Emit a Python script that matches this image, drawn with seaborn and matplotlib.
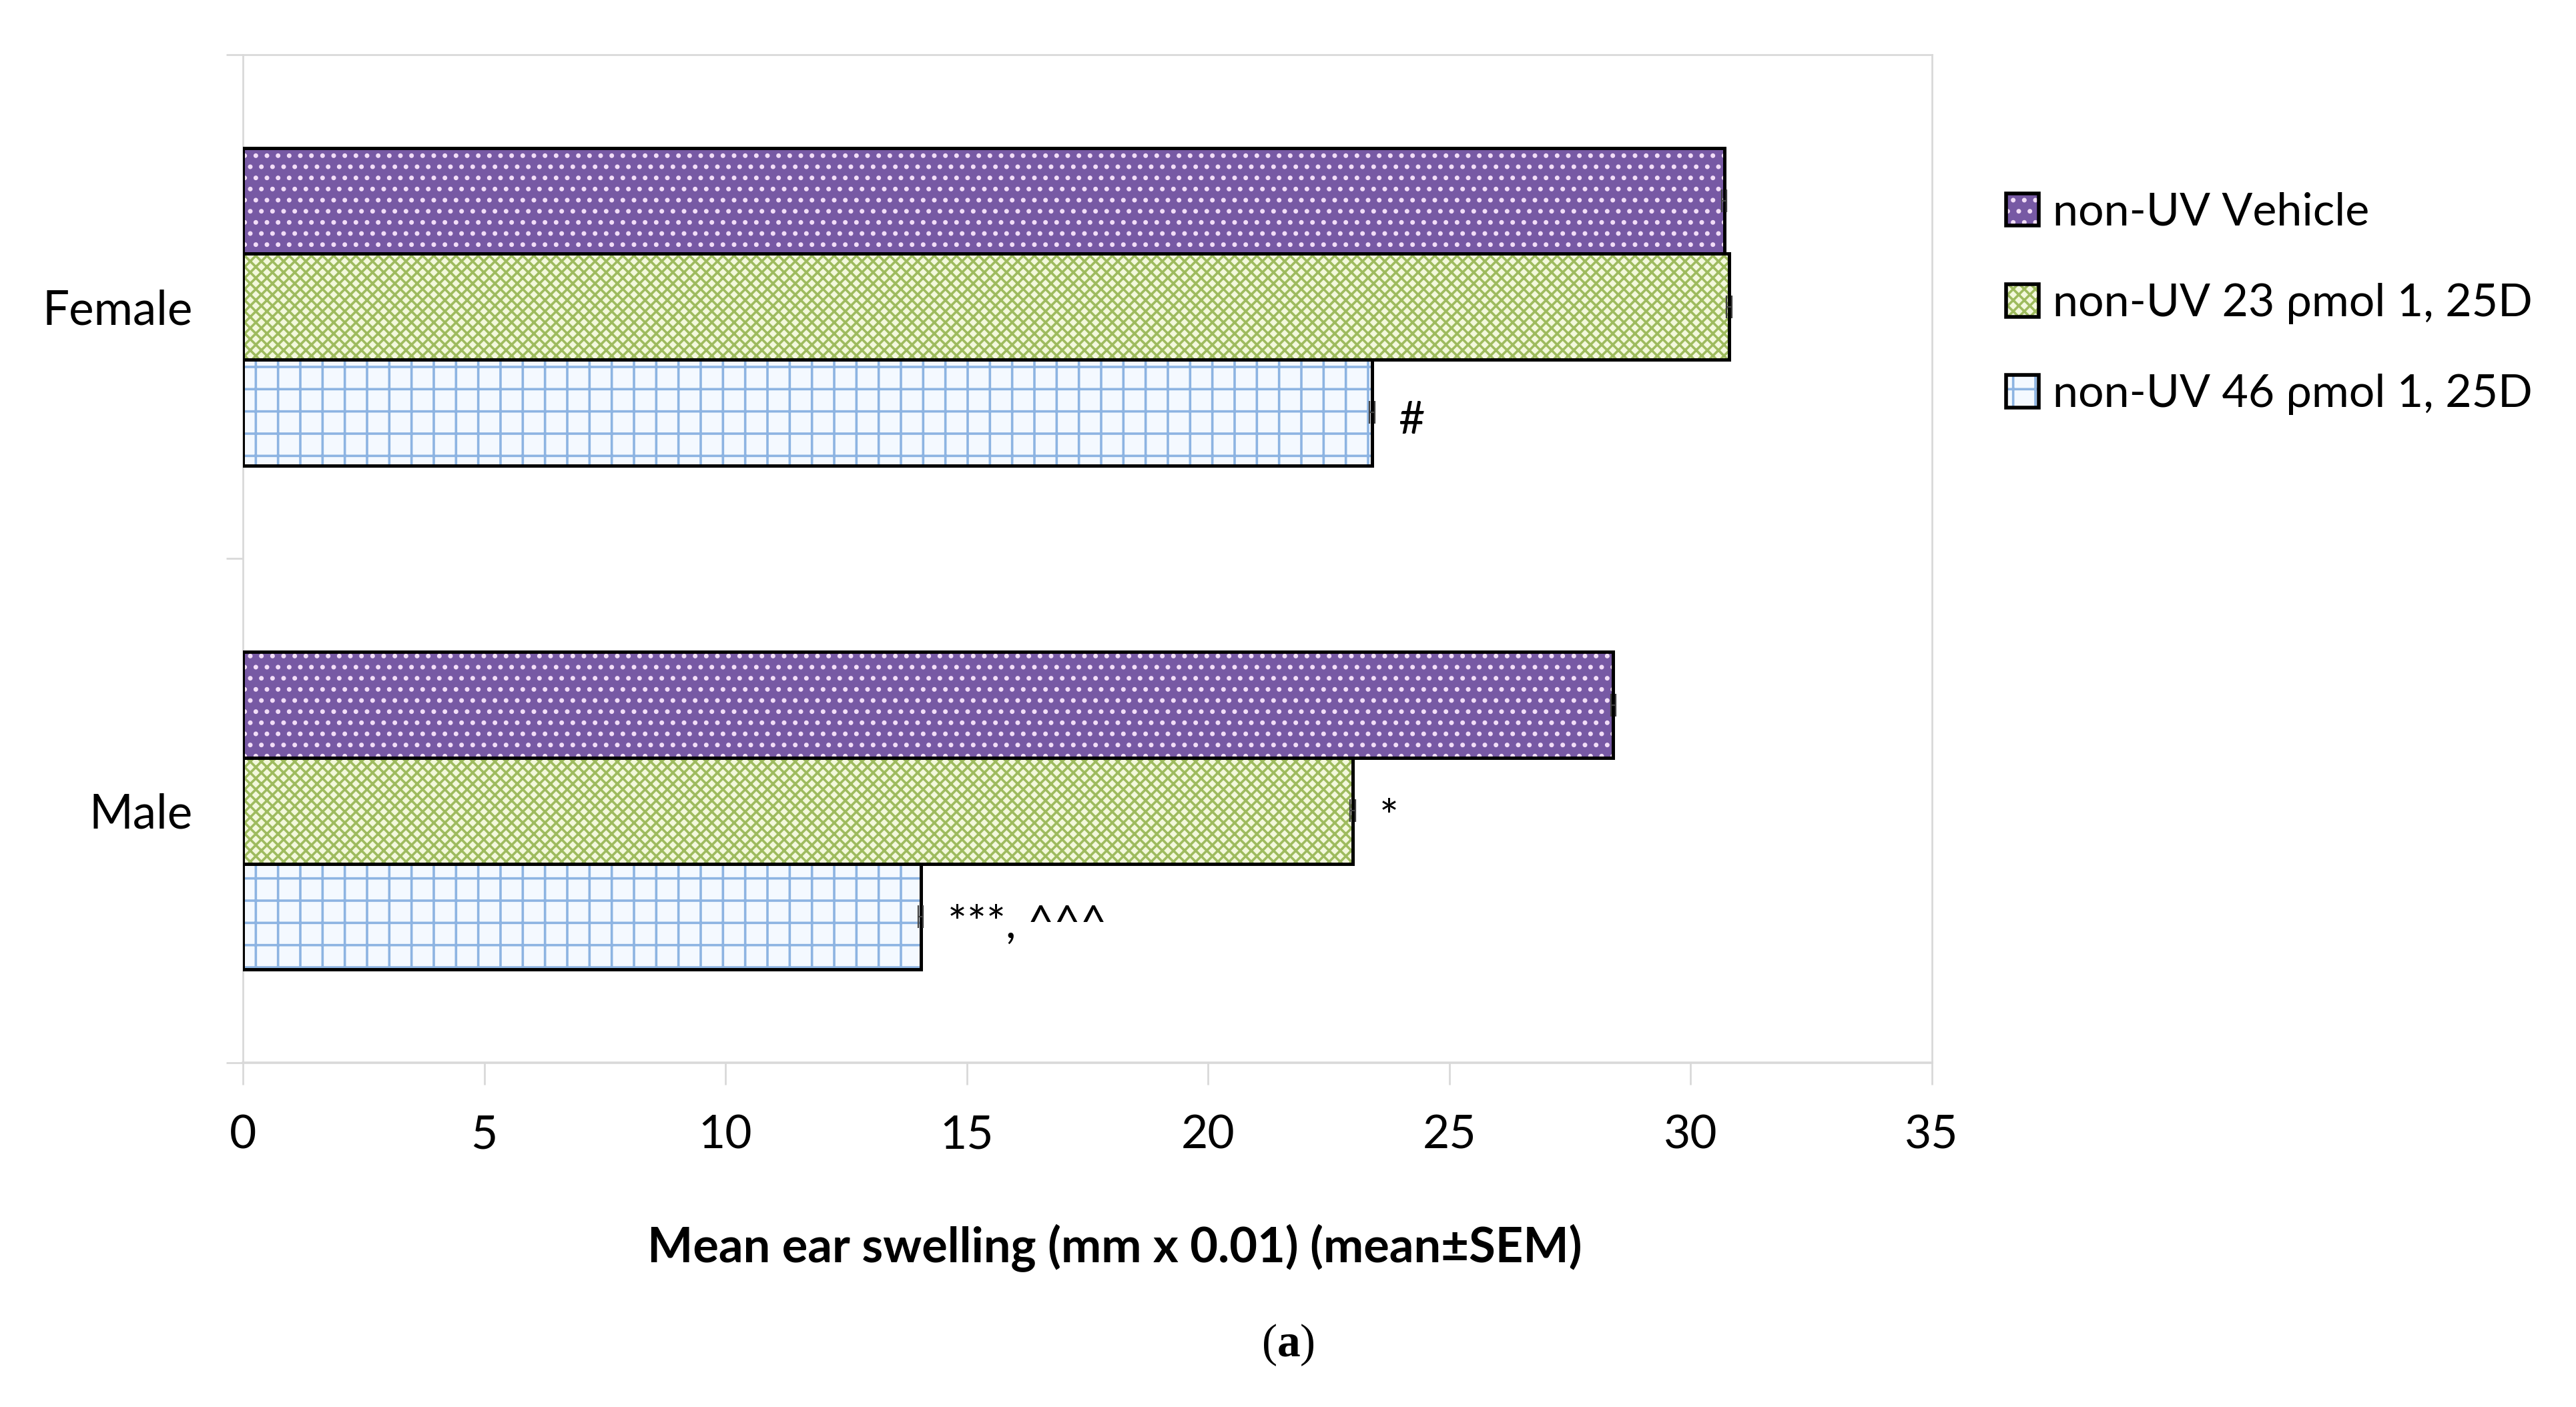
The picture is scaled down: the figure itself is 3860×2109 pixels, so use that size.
import numpy as np
import pandas as pd
import matplotlib
matplotlib.use("Agg")
import matplotlib.pyplot as plt
import seaborn as sns
from matplotlib.patches import Patch, Rectangle

# values
sexes = ["Female", "Male"]
treatments = ["non-UV Vehicle", "non-UV 23 ρmol 1, 25D", "non-UV 46 ρmol 1, 25D"]
female_mean = [30.7, 30.8, 23.4]
male_mean = [28.4, 23.0, 14.05]
female_sem = [0.05, 0.05, 0.05]
male_sem = [0.05, 0.05, 0.05]
female_marks = ["", "", "#"]
male_marks = ["", "*", "***, ^^^"]
x_ticks = [0, 5, 10, 15, 20, 25, 30, 35]

face_colors = ["#7759A4", "#F3F8DC", "#F4F9FF"]
hatch_colors = ["#F2DDF7", "#9EBB5E", "#8DB4E2"]
hatches = ["..", "xxxx", "+"]

df = pd.DataFrame({
    "sex": np.repeat(sexes, len(treatments)),
    "treatment": treatments * len(sexes),
    "swelling": female_mean + male_mean,
    "err": female_sem + male_sem,
    "mark": female_marks + male_marks,
})

sns.set_theme(style="white")
plt.rcParams["font.family"] = ["Lato", "DejaVu Sans"]
plt.rcParams["text.color"] = "black"
plt.rcParams["axes.labelcolor"] = "black"
plt.rcParams["xtick.color"] = "black"
plt.rcParams["ytick.color"] = "black"
plt.rcParams["hatch.linewidth"] = 1.3
plt.rcParams["mathtext.fontset"] = "custom"
plt.rcParams["mathtext.rm"] = "Liberation Serif"
plt.rcParams["mathtext.bf"] = "Liberation Serif:bold"

fig = plt.figure(figsize=(19.3, 10.545), dpi=200)
ax = fig.add_axes([0.0943, 0.2447, 0.6556, 0.7164])

sns.barplot(data=df, x="swelling", y="sex", hue="treatment", order=sexes,
            hue_order=treatments, orient="h", width=0.63, errorbar=None,
            palette=face_colors, saturation=1, legend=False, ax=ax)

# hatch fill, then black outline on top (hatch colour follows edgecolor)
bar_groups = list(ax.containers)
for i, cont in enumerate(bar_groups):
    t = treatments[i]
    for j, bar in enumerate(cont):
        bar.set_hatch(hatches[i])
        bar.set_edgecolor(hatch_colors[i])
        bar.set_linewidth(0)
        ax.add_patch(Rectangle(bar.get_xy(), bar.get_width(), bar.get_height(),
                               fill=False, edgecolor="black", linewidth=1.8, zorder=3))
        row = df[(df["sex"] == sexes[j]) & (df["treatment"] == t)].iloc[0]
        yc = bar.get_y() + bar.get_height() / 2
        ax.errorbar(row["swelling"], yc, xerr=row["err"], fmt="none", ecolor="#404040",
                    elinewidth=0.8, capsize=6, capthick=0.8, zorder=4)
        if row["mark"]:
            ax.annotate(row["mark"], xy=(row["swelling"] + row["err"], yc),
                        xytext=(13, -11.5), textcoords="offset points",
                        ha="left", va="baseline", fontsize=24.5)

ax.set_xlim(0, 35)
ax.set_xticks(x_ticks)
for s in ax.spines.values():
    s.set_visible(True)
    s.set_color("#D9D9D9")
    s.set_linewidth(1.0)
ax.spines["bottom"].set_linewidth(1.3)

ax.tick_params(axis="x", bottom=True, direction="out", length=12, width=1,
               color="#D9D9D9", pad=16, labelsize=25, labelcolor="black")
ax.tick_params(axis="y", which="major", left=False, length=0, pad=27,
               labelsize=25.5, labelcolor="black")
ax.set_yticks([-0.5, 0.5, 1.5], minor=True)
ax.tick_params(axis="y", which="minor", left=True, direction="out", length=9,
               width=1, color="#D9D9D9")

ax.set_ylabel("")
ax.set_xlabel("Mean ear swelling (mm x 0.01) (mean±SEM)", fontsize=26,
              fontweight="bold")
ax.xaxis.set_label_coords(0.516, -0.16)

handles = [(Patch(facecolor=face_colors[i], hatch=hatches[i],
                  edgecolor=hatch_colors[i], linewidth=0),
            Patch(fill=False, edgecolor="black", linewidth=2))
           for i in range(len(treatments))]
fig.legend(handles, treatments, loc="center left", bbox_to_anchor=(0.7788, 0.7842),
           frameon=False, fontsize=24.5, handlelength=0.72, handleheight=0.72,
           handletextpad=0.3, labelspacing=1.09, borderpad=0, borderaxespad=0)

fig.text(0.5, 0.044, r"($\mathbf{a}$)", ha="center", va="center", fontsize=25,
         family="Liberation Serif")

fig.savefig("out.png", dpi=200)
